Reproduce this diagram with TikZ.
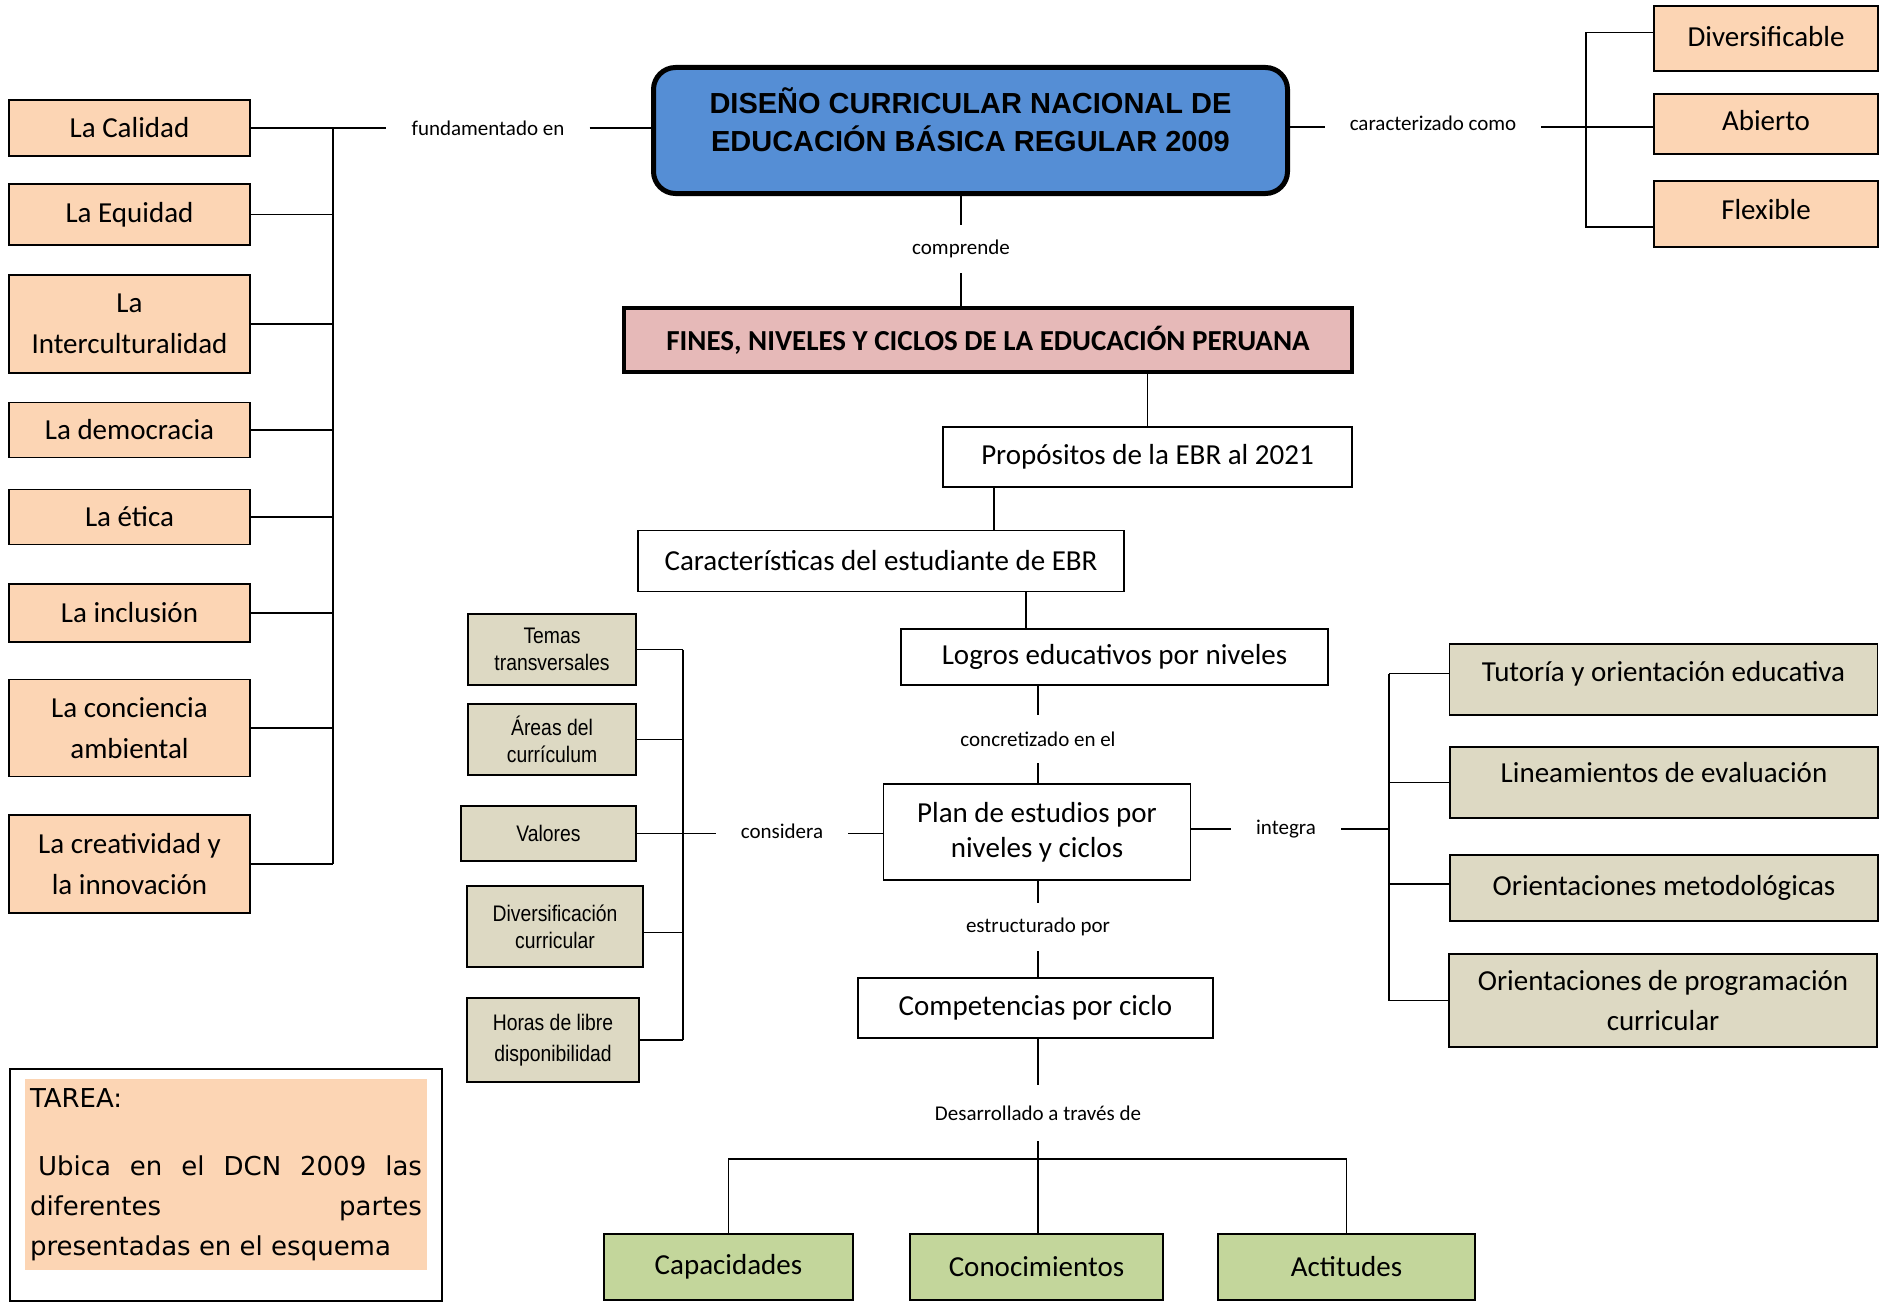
\documentclass[tikz,border=0pt]{standalone}
\usepackage{fontspec}
\setmainfont{Carlito}
\newfontfamily\arialfont{Liberation Sans}
\newfontfamily\narrowfont{Liberation Sans}[FakeStretch=0.86]
\newfontfamily\tareafont{DejaVu Sans}
\usepackage{xcolor}
\usepackage{tikz}
\usetikzlibrary{positioning,calc}
\definecolor{dcnblue}{HTML}{558ED5}
\definecolor{finespink}{HTML}{E6B9B8}
\definecolor{peach}{HTML}{FCD5B4}
\definecolor{khaki}{HTML}{DDD9C3}
\definecolor{sage}{HTML}{C3D69B}

\begin{document}
\begin{tikzpicture}[
    x=1pt, y=-1pt,
    box/.style={rectangle, draw, line width=1.6pt, inner sep=0pt, align=center, font=\fontsize{29}{35}\selectfont},
    peachbox/.style={box, fill=peach, minimum width=241pt, font=\fontsize{29}{41}\selectfont},
    topbox/.style={box, fill=peach, minimum width=224pt},
    considbox/.style={box, fill=khaki, font=\narrowfont\fontsize{22.5}{27}\selectfont},
    integbox/.style={box, fill=khaki, minimum width=428pt, font=\fontsize{29}{40}\selectfont},
    greenbox/.style={box, fill=sage, minimum height=66pt},
    lbl/.style={inner xsep=25pt, inner ysep=0pt, minimum height=48pt, font=\fontsize{21}{25}\selectfont},
    link/.style={line width=1.8pt}
]
    \useasboundingbox (0,0) rectangle (1886,1303);

    % Main title
    \node[box, rounded corners=22pt, line width=5pt, fill=dcnblue, minimum width=634pt, minimum height=126pt,
          font=\arialfont\bfseries\fontsize{29}{38}\selectfont] (dcn) at (970.5,130.5)
          {DISEÑO CURRICULAR NACIONAL DE\\EDUCACIÓN BÁSICA REGULAR 2009\\[-17pt]\mbox{}};

    % Fines, niveles y ciclos
    \node[box, fill=finespink, line width=3.5pt, minimum width=728pt, minimum height=64pt,
          font=\bfseries\fontsize{29}{35}\selectfont] (fines) at (988,340)
          {FINES, NIVELES Y CICLOS DE LA EDUCACIÓN PERUANA};

    % Left column (fundamentado en)
    \node[peachbox, minimum height=56pt] (calidad) at (129.5,128) {La Calidad};
    \node[peachbox, minimum height=61pt] (equidad) at (129.5,214.5) {La Equidad};
    \node[peachbox, minimum height=98pt] (intercul) at (129.5,324) {La\\Interculturalidad};
    \node[peachbox, minimum height=55pt] (democ) at (129.5,430) {La democracia};
    \node[peachbox, minimum height=55pt] (etica) at (129.5,517) {La ética};
    \node[peachbox, minimum height=58pt] (inclus) at (129.5,613) {La inclusión};
    \node[peachbox, minimum height=97pt] (concien) at (129.5,728) {La conciencia\\ambiental};
    \node[peachbox, minimum height=98pt] (creat) at (129.5,864) {La creatividad y\\la innovación};

    % Right top (caracterizado como)
    \node[topbox, minimum height=65pt, text depth=5pt] (divers) at (1766,38.5) {Diversificable};
    \node[topbox, minimum height=60pt, text depth=7pt] (abierto) at (1766,124) {Abierto};
    \node[topbox, minimum height=66pt, text depth=10pt] (flex) at (1766,214) {Flexible};

    % Middle column
    \node[box, minimum width=409pt, minimum height=60pt] (prop) at (1147.5,457) {Propósitos de la EBR al 2021};
    \node[box, minimum width=486pt, minimum height=61pt] (carac) at (881,561) {Características del estudiante de EBR};
    \node[box, minimum width=427pt, minimum height=56pt] (logros) at (1114.5,657) {Logros educativos por niveles};
    \node[box, minimum width=307pt, minimum height=96pt] (plan) at (1037,832) {Plan de estudios por\\niveles y ciclos};
    \node[box, minimum width=355pt, minimum height=60pt] (compet) at (1035.5,1008) {Competencias por ciclo};

    % Considera
    \node[considbox, minimum width=168pt, minimum height=71pt] (temas) at (552,649.5) {Temas\\transversales};
    \node[considbox, minimum width=168pt, minimum height=71pt] (areas) at (552,739.5) {Áreas del\\currículum};
    \node[considbox, minimum width=175pt, minimum height=55pt] (valores) at (548.5,833.5) {Valores};
    \node[considbox, minimum width=176pt, minimum height=81pt] (diversif) at (555,926.5) {Diversificación\\curricular};
    \node[considbox, minimum width=172pt, minimum height=84pt, font=\narrowfont\fontsize{22.5}{31}\selectfont] (horas) at (553,1040) {Horas de libre\\disponibilidad};

    % Integra
    \node[integbox, minimum height=71pt, text depth=16pt] (tutoria) at (1663.5,679.5) {Tutoría y orientación educativa};
    \node[integbox, minimum height=71pt, text depth=20pt] (linea) at (1664,782.5) {Lineamientos de evaluación};
    \node[integbox, minimum height=66pt] (metod) at (1664,888) {Orientaciones metodológicas};
    \node[integbox, minimum height=93pt] (progr) at (1663,1000.5) {Orientaciones de programación\\curricular};

    % Bottom row
    \node[greenbox, minimum width=249pt] (capac) at (728.5,1267) {Capacidades};
    \node[greenbox, minimum width=253pt] (conoc) at (1036.5,1267) {Conocimientos};
    \node[greenbox, minimum width=257pt] (actit) at (1346.5,1267) {Actitudes};

    % Link labels
    \node[lbl] (fund) at (488,128) {fundamentado en};
    \node[lbl] (carz) at (1433,123) {caracterizado como};
    \node[lbl] (compr) at (961,249) {comprende};
    \node[lbl] (concr) at (1038,739) {concretizado en el};
    \node[lbl] (estr) at (1038,927) {estructurado por};
    \node[lbl, minimum height=56pt] (desa) at (1038,1113) {Desarrollado a través de};
    \node[lbl] (consid) at (782,831) {considera};
    \node[lbl] (integ) at (1286,829) {integra};

    % Trunks
    \coordinate (lefttrunk) at (333,0);
    \coordinate (toptrunk) at (1586,0);
    \coordinate (midtrunk) at (683,0);
    \coordinate (righttrunk) at (1389,0);
    \coordinate (carline) at (0,127);
    \coordinate (bar) at (1038,1159);

    % fundamentado en
    \draw[link] (calidad.east) -- (fund.west);
    \draw[link] (fund.east) -- (dcn.west |- fund);
    \draw[link] (calidad.east -| lefttrunk) -- (creat.east -| lefttrunk);
    \draw[link] (equidad.east) -- (equidad.east -| lefttrunk);
    \draw[link] (intercul.east) -- (intercul.east -| lefttrunk);
    \draw[link] (democ.east) -- (democ.east -| lefttrunk);
    \draw[link] (etica.east) -- (etica.east -| lefttrunk);
    \draw[link] (inclus.east) -- (inclus.east -| lefttrunk);
    \draw[link] (concien.east) -- (concien.east -| lefttrunk);
    \draw[link] (creat.east) -- (creat.east -| lefttrunk);

    % caracterizado como
    \coordinate (diversin) at ([yshift=6pt]divers.west);
    \coordinate (flexin) at ([yshift=-13pt]flex.west);
    \draw[link] (dcn.east |- carline) -- (carz.west |- carline);
    \draw[link] (carz.east |- carline) -- (abierto.west |- carline);
    \draw[link] (diversin) -- (diversin -| toptrunk) -- (flexin -| toptrunk) -- (flexin);

    % comprende
    \draw[link] (dcn.south -| compr) -- (compr.north);
    \draw[link] (compr.south) -- (compr.south |- fines.north);

    % middle chain
    \coordinate (propout) at ([xshift=52pt]prop.south west);
    \coordinate (login) at ([xshift=126pt]logros.north west);
    \draw[link] (fines.south -| prop) -- (prop.north);
    \draw[link] (propout) -- (propout |- carac.north);
    \draw[link] (carac.south -| login) -- (login);
    \draw[link] (logros.south -| concr) -- (concr.north);
    \draw[link] (concr.south) -- (plan.north -| concr);
    \draw[link] (plan.south -| estr) -- (estr.north);
    \draw[link] (estr.south) -- (compet.north -| estr);
    \draw[link] (compet.south -| desa) -- (desa.north);
    \draw[link] (desa.south) -- (bar);
    \draw[link] (capac.north) -- (capac.north |- bar) -- (actit.north |- bar) -- (actit.north);
    \draw[link] (bar) -- (conoc.north -| bar);

    % considera
    \coordinate (diversifout) at ([yshift=-6pt]diversif.east);
    \draw[link] (valores.east) -- (consid.west |- valores.east);
    \draw[link] (consid.east |- valores.east) -- (plan.west |- valores.east);
    \draw[link] (temas.east -| midtrunk) -- (horas.east -| midtrunk);
    \draw[link] (temas.east) -- (temas.east -| midtrunk);
    \draw[link] (areas.east) -- (areas.east -| midtrunk);
    \draw[link] (diversifout) -- (diversifout -| midtrunk);
    \draw[link] (horas.east) -- (horas.east -| midtrunk);

    % integra
    \coordinate (tutin) at ([yshift=6pt]tutoria.west);
    \coordinate (metin) at ([yshift=4pt]metod.west);
    \draw[link] (plan.east |- integ) -- (integ.west);
    \draw[link] (integ.east) -- (integ.east -| righttrunk);
    \draw[link] (tutin -| righttrunk) -- (progr.west -| righttrunk);
    \draw[link] (tutin -| righttrunk) -- (tutin);
    \draw[link] (linea.west -| righttrunk) -- (linea.west);
    \draw[link] (metin -| righttrunk) -- (metin);
    \draw[link] (progr.west -| righttrunk) -- (progr.west);

    % Tarea
    \node[draw, line width=1.2pt, fill=white, minimum width=432pt, minimum height=232pt, inner sep=0pt] (tareaframe) at (226,1185) {};
    \node[fill=peach, minimum width=402pt, minimum height=191pt, inner sep=0pt] (tarea) at (226,1174.5)
        {\parbox{392pt}{\tareafont\fontsize{26}{40}\selectfont TAREA:\par\vspace{28pt}\hspace*{8pt}Ubica en el DCN 2009 las\linebreak diferentes partes\linebreak presentadas en el esquema}};
\end{tikzpicture}
\end{document}
